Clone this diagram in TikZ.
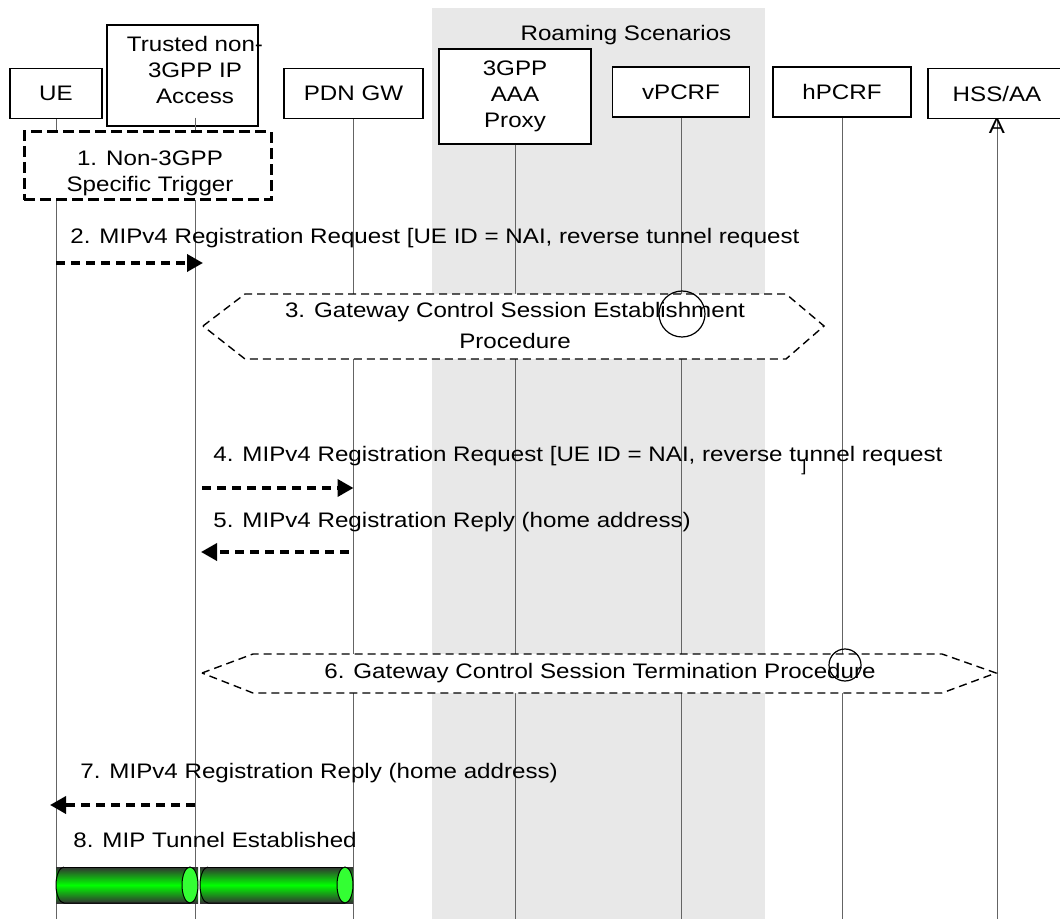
\documentclass[tikz,border=0pt]{standalone}
\usepackage{fontspec}
\setmainfont{Liberation Sans}[FakeStretch=1.15]
\usetikzlibrary{arrows.meta}
\definecolor{roamgray}{RGB}{232,232,232}
\definecolor{lifegray}{RGB}{100,100,100}
\definecolor{tunlight}{RGB}{51,255,51}
\definecolor{tungreen}{RGB}{0,255,0}
\definecolor{tundark}{RGB}{50,50,50}
\tikzset{
  entity/.style={draw, fill=white, line width=0.6pt, minimum height=25pt, inner sep=0pt, align=center},
  life/.style={draw=lifegray, line width=0.5pt},
  msg/.style={line width=1.8pt, dash pattern=on 4.5pt off 3pt, -{Triangle[length=8pt,width=8.5pt]}},
  proc/.style={draw, fill=white, line width=0.7pt, dash pattern=on 4pt off 2.5pt},
  trig/.style={draw, fill=white, line width=1.5pt, dash pattern=on 5.5pt off 2.5pt, inner sep=0pt},
  lbl/.style={anchor=base west, inner sep=0pt},
  ringmark/.style={draw, circle, line width=0.6pt, inner sep=0pt},
}
\begin{document}
\begin{tikzpicture}[x=0.5pt, y=-0.5pt, font=\fontsize{10.5}{13}\selectfont]
\useasboundingbox (0,0) rectangle (1060,919);
\coordinate (bot) at (0,919);
% roaming scenarios area
\fill[roamgray] (432,8) rectangle (765,919);
\node (roam) at (626,35) {Roaming Scenarios};

% entities
\node[entity, minimum width=46pt] (ue) at (56,93.5) {UE};
\node[entity, minimum width=75.5pt, minimum height=50.5pt] (tnabox) at (182.5,75.5) {};
\node[align=center, inner sep=0pt] (tna) at (195,70) {Trusted non-\\3GPP IP\\Access};
\node[entity, minimum width=69.5pt] (pdn) at (353.5,93.5) {PDN GW};
\node[entity, minimum width=76pt, minimum height=47.5pt] (aaa) at (515,96.5) {3GPP\\AAA\\Proxy};
\node[entity, minimum width=68.5pt] (vpcrf) at (681,92) {vPCRF};
\node[entity, minimum width=69pt] (hpcrf) at (842,92) {hPCRF};
\node[entity, minimum width=69pt] (hss) at (997,93.5) {HSS/AA};

% lifelines
\draw[life] (ue.south) -- (ue |- bot);
\draw[life] (tna |- tnabox.south) ++(0,-9) -- (tna |- bot);
\draw[life] (pdn.south) -- (pdn |- bot);
\draw[life] (aaa.south) -- (aaa |- bot);
\draw[life] (vpcrf.south) -- (vpcrf |- bot);
\draw[life] (hpcrf.south) -- (hpcrf |- bot);
\draw[life] (hss.south) -- (hss |- bot);
\node[inner sep=0pt] (hssA) at (997,126) {A};

% 1. trigger
\node[trig, minimum width=123.5pt, minimum height=34pt] (trigbox) at (147.5,166) {};
\node[align=center, inner sep=0pt] (trig) at (150,173) {1. Non-3GPP\\Specific Trigger};

% 2.
\coordinate (y2) at (0,263);
\node[lbl] (m2) at (70,244) {2. MIPv4 Registration Request [UE ID = NAI, reverse tunnel request};
\draw[msg, shorten >=-4pt] (ue |- y2) -- (tna |- y2);

% 3. gateway control session establishment
\draw[proc] (203,326) -- (245,294) -- (786,294) -- (824,326) -- (786,359) -- (245,359) -- cycle;
\node[align=center, inner sep=0pt, font=\fontsize{10.5}{15.5}\selectfont] (gwest) at (515,325) {3. Gateway Control Session Establishment\\Procedure};
\node[ringmark, minimum size=23pt] (estc) at (682,314) {};

% 4. / 5.
\coordinate (y4) at (0,488);
\coordinate (y5) at (0,552);
\node[lbl] (m4) at (213,462) {4. MIPv4 Registration Request [UE ID = NAI, reverse tunnel request};
\node[lbl, font=\fontsize{8}{9}\selectfont] (m4b) at (801,472) {]};
\draw[msg, shorten <=3.5pt] (tna |- y4) -- (pdn |- y4);
\node[lbl] (m5) at (213,527) {5. MIPv4 Registration Reply (home address)};
\draw[msg, shorten <=2.5pt, shorten >=3pt] (pdn |- y5) -- (tna |- y5);

% 6. gateway control session termination
\draw[proc] (202,673) -- (253,654) -- (942,654) -- (996,673) -- (942,693) -- (253,693) -- cycle;
\node[inner sep=0pt] (gwterm) at (600,673) {6. Gateway Control Session Termination Procedure};
\node[ringmark, minimum size=16pt] (termc) at (845,665) {};

% 7.
\coordinate (y7) at (0,805);
\node[lbl] (m7) at (80,778) {7. MIPv4 Registration Reply (home address)};
\draw[msg, shorten >=-3pt] (tna |- y7) -- (ue |- y7);

% 8. tunnel
\node[lbl] (m8) at (73,847) {8. MIP Tunnel Established};
\foreach \xa/\xb in {56/198, 200/353} {
  \shade[top color=tundark, bottom color=tundark, middle color=tungreen] (\xa,867) rectangle (\xb,903);
  \draw[line width=0.5pt] (\xa+8,867) arc[start angle=90, end angle=270, x radius=4pt, y radius=9pt] -- (\xb-8,903);
  \draw[line width=0.5pt] (\xa+8,867) -- (\xb-8,867);
  \draw[line width=0.5pt, fill=tunlight] (\xb-8,885) ellipse[x radius=4pt, y radius=9pt];
}
\end{tikzpicture}
\end{document}
